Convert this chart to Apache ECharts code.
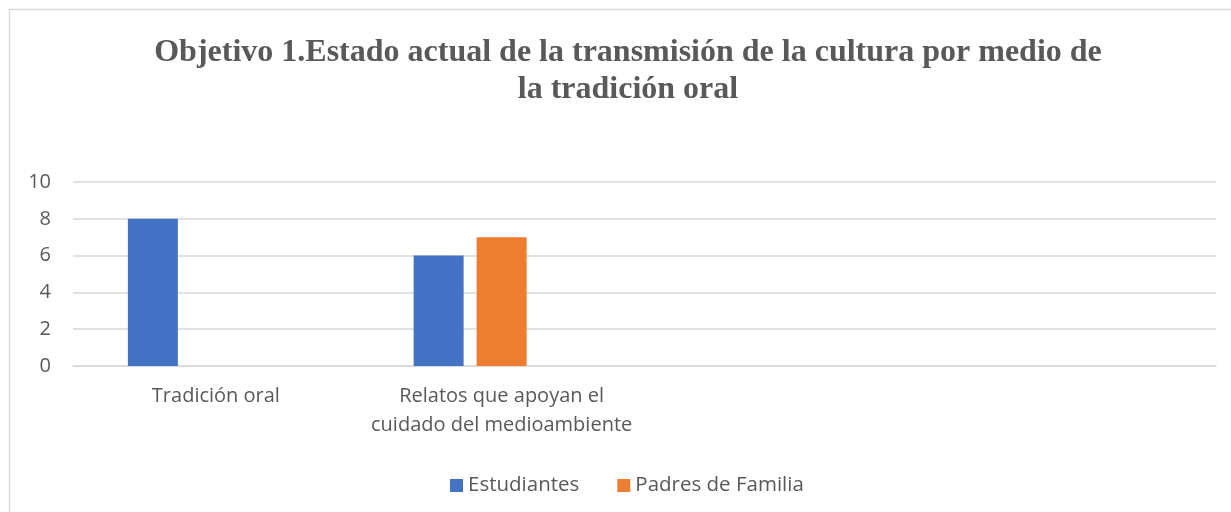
<!DOCTYPE html>
<html><head><meta charset="utf-8">
<script src="https://cdn.jsdelivr.net/npm/echarts@6/dist/echarts.min.js"></script>
<style>html,body{margin:0;padding:0;background:#fff}#c{width:1231px;height:512px}</style>
</head><body><div id="c"></div>
<script>
const titleText = 'Objetivo 1.Estado actual de la transmisión de la cultura por medio de\nla tradición oral';
const categories = ['Tradición oral', 'Relatos que apoyan el\ncuidado del medioambiente', '', ''];
const estudiantes = [8, 6, null, null];
const padres = [null, 7, null, null];
const serie3 = [null, null, null, null];
const yTicks = [0, 2, 4, 6, 8, 10];

const chart = echarts.init(document.getElementById('c'), null, {renderer: 'canvas'});
const font = '"Open Sans", sans-serif';
chart.setOption({
  animation: false,
  backgroundColor: '#fff',
  graphic: [{
    type: 'rect', shape: {x: 9.5, y: 9.5, width: 1300, height: 600},
    style: {fill: 'none', stroke: '#d9d9d9', lineWidth: 1.5}, silent: true
  }],
  title: {
    text: titleText,
    left: 623, top: 29, textAlign: 'center',
    textStyle: {fontFamily: '"Liberation Serif", "Times New Roman", serif', fontWeight: 'bold', fontSize: 32, color: '#595959', lineHeight: 37}
  },
  legend: {
    data: ['Estudiantes', 'Padres de Familia'],
    left: 445, top: 470,
    itemWidth: 13, itemHeight: 13, itemGap: 38, itemStyle: {borderWidth: 0}, icon: 'rect',
    textStyle: {fontFamily: font, fontSize: 20.5, color: '#595959'}
  },
  grid: {left: 73, right: 15, top: 182, bottom: 146, containLabel: false},
  xAxis: {
    type: 'category', data: categories,
    axisLine: {show: true, lineStyle: {color: '#d9d9d9', width: 1.5}},
    axisTick: {show: false},
    axisLabel: {fontFamily: font, fontSize: 20, color: '#595959', margin: 16, lineHeight: 29, interval: 0}
  },
  yAxis: {
    type: 'value', min: yTicks[0], max: yTicks[yTicks.length - 1], interval: 2,
    axisLine: {show: false}, axisTick: {show: false},
    axisLabel: {fontFamily: font, fontSize: 20, color: '#595959', margin: 22},
    splitLine: {lineStyle: {color: '#d9d9d9', width: 1.5}}
  },
  series: [
    {name: 'Estudiantes', type: 'bar', data: estudiantes, barWidth: 50, barGap: '26%', itemStyle: {color: '#4472c4'}},
    {name: 'Padres de Familia', type: 'bar', data: padres, barWidth: 50, barGap: '26%', itemStyle: {color: '#ed7d31'}},
    {name: 'Serie3', type: 'bar', data: serie3, barWidth: 50, barGap: '26%', itemStyle: {color: '#a5a5a5'}}
  ]
});
</script></body></html>
